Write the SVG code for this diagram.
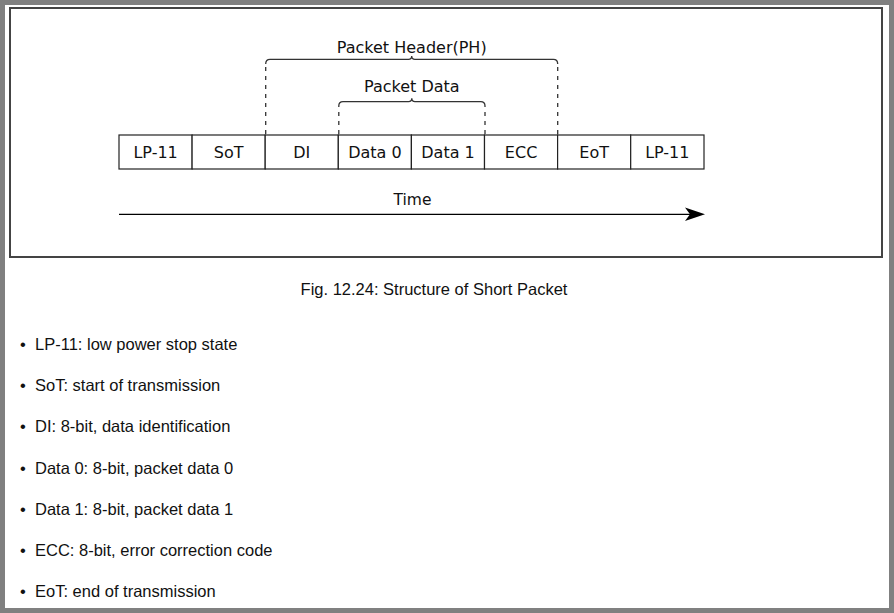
<svg xmlns="http://www.w3.org/2000/svg" width="894" height="613" viewBox="0 0 894 613">
<style>
.cell{fill:#fff;stroke:#222;stroke-width:1.2}
.ct{font-family:"DejaVu Sans",Verdana,sans-serif;font-size:16px;fill:#111;text-anchor:middle}
.dash{stroke:#333;stroke-width:1.3;stroke-dasharray:4,5;fill:none}
.brace{stroke:#333;stroke-width:1.3;fill:none}
.body{font-family:"Liberation Sans",Arial,sans-serif;font-size:16.5px;fill:#111}
</style>
<rect x="0" y="0" width="894" height="613" fill="#808080"/>
<rect x="5" y="5" width="884" height="603" fill="#fff"/>
<rect x="10" y="8" width="872" height="249" fill="#fff" stroke="#444" stroke-width="2"/>
<g id="connectors">
<line class="dash" x1="265.7" y1="134" x2="265.7" y2="64"/>
<line class="dash" x1="557.7" y1="134" x2="557.7" y2="64"/>
<path class="brace" d="M265.7 64 Q265.7 59.3 270 59.3 H408.5 Q411.7 59.3 411.7 56 Q411.7 59.3 415 59.3 H553.4 Q557.7 59.3 557.7 64"/>
<line class="dash" x1="338.8" y1="134" x2="338.8" y2="106"/>
<line class="dash" x1="485" y1="134" x2="485" y2="106"/>
<path class="brace" d="M338.8 106 Q338.8 101.7 343 101.7 H408.5 Q411.8 101.7 411.8 98.3 Q411.8 101.7 415 101.7 H480.7 Q485 101.7 485 106"/>
<line x1="119" y1="214.3" x2="690" y2="214.3" stroke="#000" stroke-width="1.3"/>
<polygon points="705,214.3 685,207.5 690,214.3 685,221" fill="#000"/>
</g>
<text class="ct" x="411.7" y="52.7">Packet Header(PH)</text>
<text class="ct" x="411.8" y="92.3">Packet Data</text>
<text class="ct" x="412.5" y="205" style="font-size:15.5px">Time</text>
<g id="cell-lp11a"><rect class="cell" x="119" y="135" width="73.1" height="34"/><text class="ct" x="155.6" y="158">LP-11</text></g>
<g id="cell-sot"><rect class="cell" x="192.1" y="135" width="73.1" height="34"/><text class="ct" x="228.7" y="158">SoT</text></g>
<g id="cell-di"><rect class="cell" x="265.2" y="135" width="73.1" height="34"/><text class="ct" x="301.8" y="158">DI</text></g>
<g id="cell-data0"><rect class="cell" x="338.3" y="135" width="73.1" height="34"/><text class="ct" x="374.9" y="158">Data 0</text></g>
<g id="cell-data1"><rect class="cell" x="411.4" y="135" width="73.1" height="34"/><text class="ct" x="448" y="158">Data 1</text></g>
<g id="cell-ecc"><rect class="cell" x="484.5" y="135" width="73.1" height="34"/><text class="ct" x="521.1" y="158">ECC</text></g>
<g id="cell-eot"><rect class="cell" x="557.6" y="135" width="73.1" height="34"/><text class="ct" x="594.2" y="158">EoT</text></g>
<g id="cell-lp11b"><rect class="cell" x="630.7" y="135" width="73.3" height="34"/><text class="ct" x="667.3" y="158">LP-11</text></g>
<text class="body" x="434" y="295" text-anchor="middle">Fig. 12.24: Structure of Short Packet</text>
<g class="body">
<text x="20" y="350">•</text><text x="35" y="350">LP-11: low power stop state</text>
<text x="20" y="391">•</text><text x="35" y="391">SoT: start of transmission</text>
<text x="20" y="432">•</text><text x="35" y="432">DI: 8-bit, data identification</text>
<text x="20" y="473.5">•</text><text x="35" y="473.5">Data 0: 8-bit, packet data 0</text>
<text x="20" y="514.5">•</text><text x="35" y="514.5">Data 1: 8-bit, packet data 1</text>
<text x="20" y="555.5">•</text><text x="35" y="555.5">ECC: 8-bit, error correction code</text>
<text x="20" y="596.5">•</text><text x="35" y="596.5">EoT: end of transmission</text>
</g>
</svg>
